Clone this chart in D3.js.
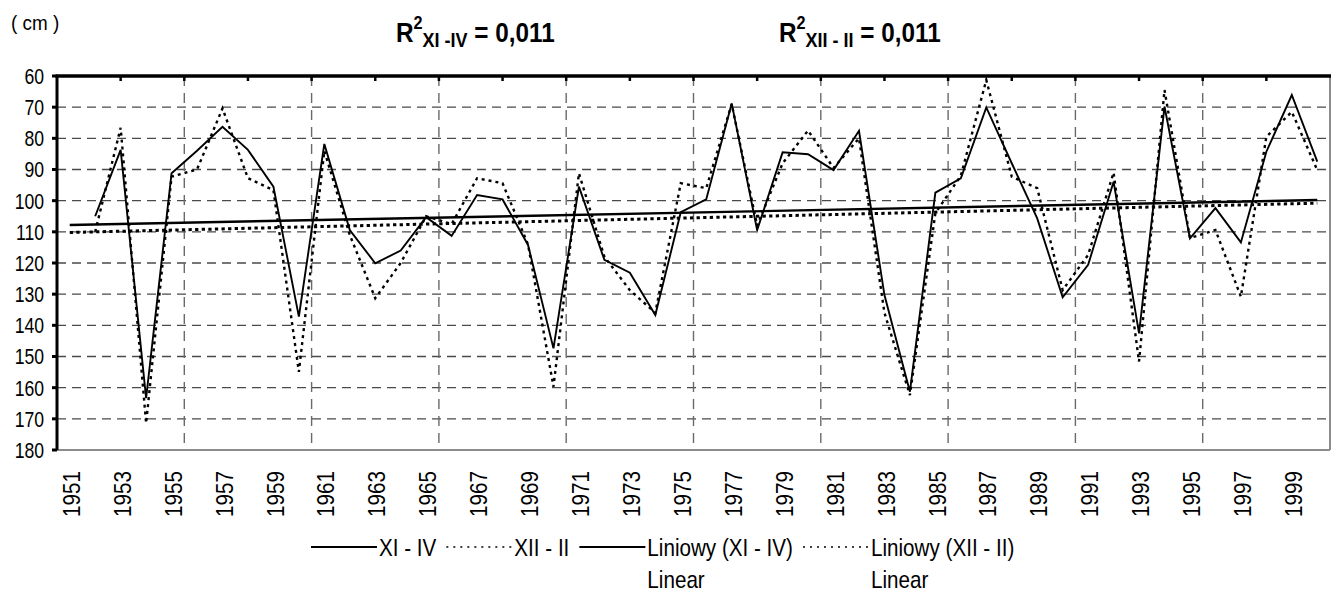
<!DOCTYPE html>
<html>
<head>
<meta charset="utf-8">
<script src="https://cdn.jsdelivr.net/npm/d3@7"></script>
<style>
  body { margin: 0; background: #fff; }
  svg { display: block; font-family: "Liberation Sans", Arial, sans-serif; }
</style>
</head>
<body>
<svg id="chart" width="1332" height="593"></svg>
<script>
///////////////////////////////////////////////////////////////////////////
/////////////////////////////// Data //////////////////////////////////////
///////////////////////////////////////////////////////////////////////////

var years = d3.range(1951, 2001);

//XI - IV (no value for 1951)
var xiIV = [null, 105, 83.7, 163.4, 91.2, 84, 76.3, 83.7, 95.5, 137.2,
  81.8, 109.4, 120.1, 116, 105.3, 111.3, 98.2, 99.6, 114.2, 147.4,
  95.5, 119, 123.1, 136.7, 103.7, 99.6, 68.8, 109.4, 84.5, 85.1,
  90.2, 77.6, 130.3, 161.3, 97.4, 92.8, 70.1, 88, 105.7, 131,
  120.6, 93.9, 142.6, 69.8, 112.1, 102.4, 113.4, 84.3, 66.1, 87.5];

//XII - II (no value for 1951)
var xiiII = [null, 110, 76.6, 171.4, 92.3, 90, 70.4, 92.8, 96.6, 154.9,
  84, 111, 131.3, 120, 105, 107.5, 92.8, 94.4, 114, 159.7,
  91.2, 118, 128.7, 136, 94.4, 96, 69, 108, 88, 77.5,
  89.5, 80, 136, 162.4, 104, 92, 61.3, 92.3, 96, 128.7,
  117.4, 91, 151.6, 64.5, 112, 109.4, 130.8, 79.5, 71.5, 90.2];

//Linear trend lines, start and end year
var trendYears = [1951, 2000];
var trendXiIV = [107.8, 99.8];
var trendXiiII = [110.2, 100.8];

var yTicks = [60, 70, 80, 90, 100, 110, 120, 130, 140, 150, 160, 170, 180];
var yearLabels = years.filter(function(d, i) { return i % 2 === 0 && d < 2000; });

var legendItems = [
  {label: "XI - IV", dash: null, sub: null},
  {label: "XII - II", dash: "2,5", sub: null},
  {label: "Liniowy (XI - IV)", dash: null, sub: "Linear"},
  {label: "Liniowy (XII - II)", dash: "2,5", sub: "Linear"}
];

///////////////////////////////////////////////////////////////////////////
/////////////////////////////// Setup /////////////////////////////////////
///////////////////////////////////////////////////////////////////////////

var plot = {left: 57, right: 1330, top: 76, bottom: 450};

var svg = d3.select("#chart");

var x = d3.scaleBand()
  .domain(years)
  .range([plot.left, plot.right]);
var xc = function(year) { return x(year) + x.bandwidth() / 2; };

var y = d3.scaleLinear()
  .domain([60, 180])
  .range([plot.top, plot.bottom]);

var step = x.bandwidth();

///////////////////////////////////////////////////////////////////////////
////////////////////////////// Gridlines //////////////////////////////////
///////////////////////////////////////////////////////////////////////////

//horizontal dashed gridlines
svg.append("g").selectAll("line")
  .data(yTicks.filter(function(d) { return d > 60 && d < 180; }))
  .enter().append("line")
  .attr("x1", plot.left).attr("x2", plot.right)
  .attr("y1", function(d) { return y(d); })
  .attr("y2", function(d) { return y(d); })
  .style("stroke", "#4a4a4a")
  .style("stroke-width", 1.3)
  .style("stroke-dasharray", "9,6");

//vertical dashed gridlines every 5 years
var vGrid = years.filter(function(d, i) { return i > 0 && i % 5 === 0; });
svg.append("g").selectAll("line")
  .data(vGrid)
  .enter().append("line")
  .attr("x1", function(d) { return x(d); })
  .attr("x2", function(d) { return x(d); })
  .attr("y1", plot.top).attr("y2", plot.bottom)
  .style("stroke", "#6a6a6a")
  .style("stroke-width", 1.4)
  .style("stroke-dasharray", "10,7");

//bottom and right frame (gray)
svg.append("line")
  .attr("x1", plot.left).attr("x2", plot.right)
  .attr("y1", plot.bottom).attr("y2", plot.bottom)
  .style("stroke", "#8c8c8c").style("stroke-width", 2);
svg.append("line")
  .attr("x1", plot.right).attr("x2", plot.right)
  .attr("y1", plot.top).attr("y2", plot.bottom)
  .style("stroke", "#8c8c8c").style("stroke-width", 2);

///////////////////////////////////////////////////////////////////////////
/////////////////////////////// Series ////////////////////////////////////
///////////////////////////////////////////////////////////////////////////

function seriesLine(values) {
  return d3.line()
    .defined(function(d, i) { return values[i] != null; })
    .x(function(d) { return xc(d); })
    .y(function(d, i) { return y(values[i]); })(years);
}

svg.append("path")
  .attr("d", seriesLine(xiIV))
  .style("fill", "none")
  .style("stroke", "#000")
  .style("stroke-width", 1.9)
  .style("stroke-linejoin", "miter");

svg.append("path")
  .attr("d", seriesLine(xiiII))
  .style("fill", "none")
  .style("stroke", "#000")
  .style("stroke-width", 2.4)
  .style("stroke-dasharray", "3,4");

var trendLine = function(values) {
  return d3.line()
    .x(function(d) { return xc(d); })
    .y(function(d, i) { return y(values[i]); })(trendYears);
};

svg.append("path")
  .attr("d", trendLine(trendXiIV))
  .style("fill", "none")
  .style("stroke", "#000")
  .style("stroke-width", 2.4);

svg.append("path")
  .attr("d", trendLine(trendXiiII))
  .style("fill", "none")
  .style("stroke", "#000")
  .style("stroke-width", 3)
  .style("stroke-dasharray", "3.3,3.3");

///////////////////////////////////////////////////////////////////////////
//////////////////////////////// Axes /////////////////////////////////////
///////////////////////////////////////////////////////////////////////////

//top axis line with small ticks
svg.append("line")
  .attr("x1", plot.left - 1.5).attr("x2", plot.right + 1)
  .attr("y1", plot.top).attr("y2", plot.top)
  .style("stroke", "#000").style("stroke-width", 3.5);

var topTicks = d3.range(1, 20).map(function(k) { return plot.left + k * 2.5 * step; });
svg.append("g").selectAll("line")
  .data(topTicks)
  .enter().append("line")
  .attr("x1", function(d) { return d; })
  .attr("x2", function(d) { return d; })
  .attr("y1", plot.top).attr("y2", plot.top + 5)
  .style("stroke", "#000").style("stroke-width", 2.5);

//left axis line with ticks
svg.append("line")
  .attr("x1", plot.left).attr("x2", plot.left)
  .attr("y1", plot.top).attr("y2", plot.bottom)
  .style("stroke", "#000").style("stroke-width", 3);

svg.append("g").selectAll("line")
  .data(yTicks)
  .enter().append("line")
  .attr("x1", plot.left - 5).attr("x2", plot.left)
  .attr("y1", function(d) { return y(d); })
  .attr("y2", function(d) { return y(d); })
  .style("stroke", "#000").style("stroke-width", 3);

//y labels (narrow)
svg.append("g").selectAll("g")
  .data(yTicks)
  .enter().append("g")
  .attr("transform", function(d) { return "translate(44," + y(d) + ") scale(0.8,1)"; })
  .append("text")
  .attr("text-anchor", "end")
  .attr("dy", "0.36em")
  .style("font-size", "22px")
  .text(function(d) { return d; });

//year labels, rotated
svg.append("g").selectAll("g")
  .data(yearLabels)
  .enter().append("g")
  .attr("transform", function(d) { return "translate(" + (xc(d) + 1.5) + ",471) rotate(-90) scale(0.86,1)"; })
  .append("text")
  .attr("text-anchor", "end")
  .attr("dy", "0.36em")
  .style("font-size", "24px")
  .text(function(d) { return d; });

///////////////////////////////////////////////////////////////////////////
//////////////////////////////// Titles ///////////////////////////////////
///////////////////////////////////////////////////////////////////////////

svg.append("g")
  .attr("transform", "translate(11,30) scale(0.9,1)")
  .append("text")
  .style("font-size", "21px")
  .text("( cm )");

function rTitle(xPos, sub) {
  var t = svg.append("g")
    .attr("transform", "translate(" + xPos + ",42) scale(0.9,1)")
    .append("text")
    .style("font-weight", "bold");
  t.append("tspan").style("font-size", "27px").text("R");
  t.append("tspan").style("font-size", "18px").attr("dy", -13).text("2");
  t.append("tspan").style("font-size", "20px").attr("dy", 18).text(sub);
  t.append("tspan").style("font-size", "27px").attr("dy", -5).text(" = 0,011");
}
rTitle(396, "XI -IV");
rTitle(779, "XII - II");

///////////////////////////////////////////////////////////////////////////
//////////////////////////////// Legend ///////////////////////////////////
///////////////////////////////////////////////////////////////////////////

var legendX = 311;
var legendY = 547;
var sampleLen = 66;
var textScale = 0.86;

legendItems.forEach(function(d) {
  svg.append("line")
    .attr("x1", legendX).attr("x2", legendX + sampleLen)
    .attr("y1", legendY).attr("y2", legendY)
    .style("stroke", "#000")
    .style("stroke-width", d.dash ? 1.6 : 1.8)
    .style("stroke-dasharray", d.dash);

  var tx = legendX + sampleLen + 2;
  var g = svg.append("g")
    .attr("transform", "translate(" + tx + "," + legendY + ") scale(" + textScale + ",1)");
  var txt = g.append("text")
    .attr("dy", "0.36em")
    .style("font-size", "24px")
    .text(d.label);
  if (d.sub) {
    g.append("text")
      .attr("y", 32)
      .attr("dy", "0.36em")
      .style("font-size", "24px")
      .text(d.sub);
  }
  legendX = tx + txt.node().getComputedTextLength() * textScale + 10;
});
</script>
</body>
</html>
